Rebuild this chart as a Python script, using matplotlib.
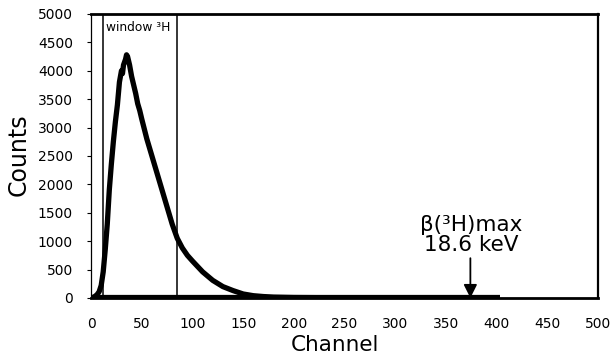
import matplotlib
matplotlib.use("Agg")
import matplotlib.pyplot as plt

plt.rcParams['font.family'] = ['DejaVu Sans']

channel = [0, 2, 4, 6, 8, 10, 12, 14, 16, 18, 20, 22, 24, 26, 28, 30, 31, 32, 34, 35, 36,
           38, 40, 42, 44, 46, 48, 50, 55, 60, 65, 70, 75, 80, 85, 90, 95, 100, 110,
           120, 130, 140, 150, 160, 170, 180, 200, 250, 300, 350, 400]
counts = [0, 10, 30, 60, 110, 220, 460, 850, 1300, 1900, 2350, 2750, 3100, 3400, 3800,
          4000, 3950, 4100, 4200, 4280, 4250, 4100, 3900, 3750, 3600, 3420, 3300, 3150,
          2800, 2500, 2200, 1900, 1600, 1300, 1050, 880, 750, 650, 460, 310, 200, 130,
          70, 40, 25, 15, 8, 3, 1, 0, 0]

window_lo, window_hi = 12, 85
beta_max_channel = 374
xticks = list(range(0, 501, 50))
yticks = list(range(0, 5001, 500))

fig = plt.figure(figsize=(6.11, 3.56), dpi=100)
ax = fig.add_axes([0.149, 0.163, 0.830, 0.798])

ax.plot(channel, counts, color='black', lw=3.8, solid_joinstyle='round',
        solid_capstyle='butt')
ax.plot([0, 403], [0, 0], color='black', lw=4.5, solid_capstyle='butt')

ax.vlines([window_lo, window_hi], 0, 5000, color='black', lw=1.1)
ax.text(window_lo + 2.5, 4760, 'window ³H', fontsize=8.8, ha='left', va='center')

ax.annotate('', xy=(beta_max_channel, 0), xytext=(beta_max_channel, 700),
            arrowprops=dict(arrowstyle='-|>', color='black', lw=1.3,
                            mutation_scale=20, shrinkA=0, shrinkB=0))
ax.text(beta_max_channel + 1, 760, 'β(³H)max\n18.6 keV', fontsize=15.5,
        ha='center', va='bottom', linespacing=1.0)

ax.set_xlim(0, 500)
ax.set_ylim(0, 5000)
ax.set_xticks(xticks)
ax.set_yticks(yticks)
ax.tick_params(axis='x', length=0, labelsize=10, pad=14)
ax.tick_params(axis='y', length=3, width=0.8, labelsize=10, pad=10)
ax.set_xlabel('Channel', fontsize=15.5, va='center')
ax.xaxis.set_label_coords(0.481, -0.165)
ax.set_ylabel('Counts', fontsize=17, va='center')
ax.yaxis.set_label_coords(-0.142, 0.503)

ax.spines['top'].set_linewidth(2)
ax.spines['right'].set_linewidth(1.6)
ax.spines['left'].set_linewidth(0.9)
ax.spines['bottom'].set_linewidth(2)

fig.savefig('out.png', dpi=100)
